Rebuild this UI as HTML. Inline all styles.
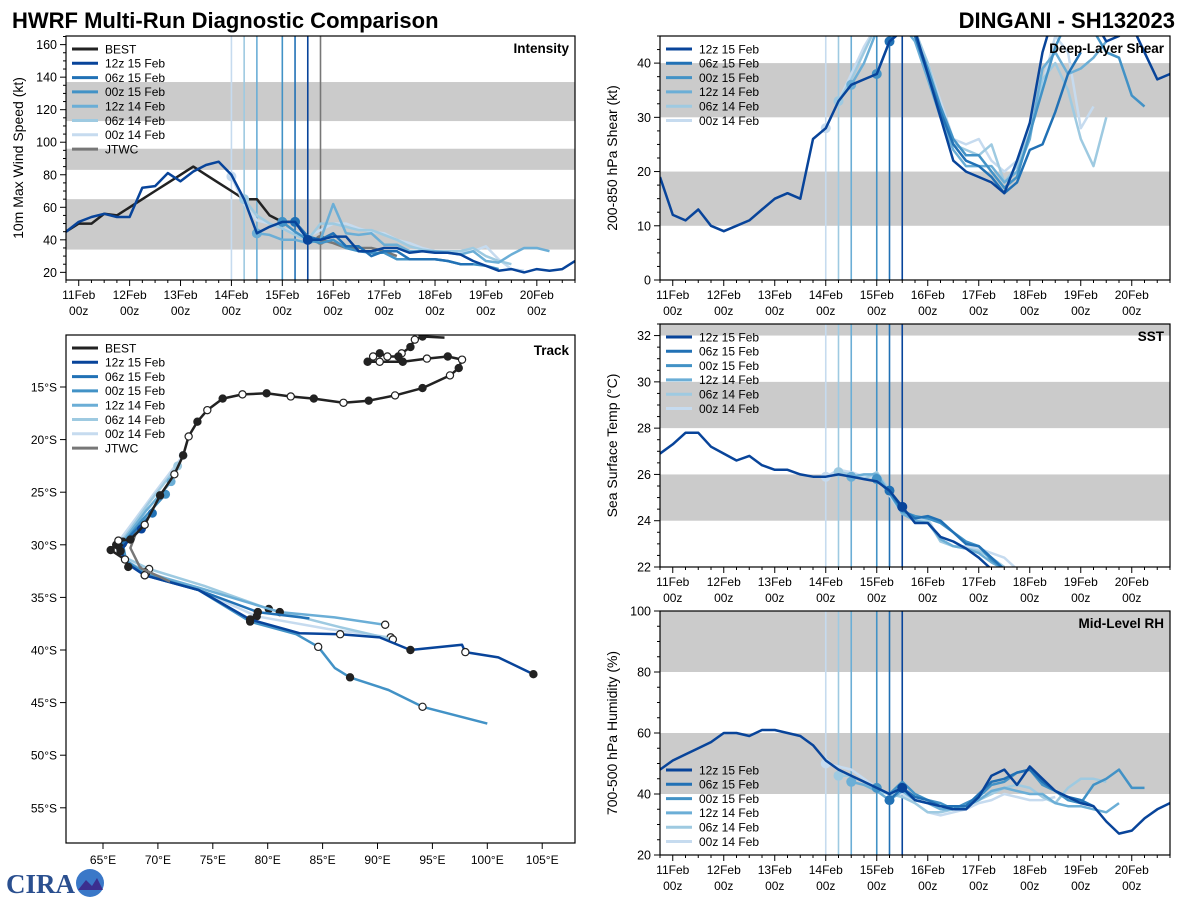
<!DOCTYPE html>
<html><head><meta charset="utf-8">
<style>
html,body{margin:0;padding:0;background:#fff;}
svg{display:block;font-family:"Liberation Sans","DejaVu Sans",sans-serif;}
</style></head>
<body>
<svg id="chart" width="1200" height="900" viewBox="0 0 1200 900">
<text x="12" y="28" font-size="22" font-weight="bold" fill="#000">HWRF Multi-Run Diagnostic Comparison</text>
<text x="1175" y="28" font-size="22" font-weight="bold" fill="#000" text-anchor="end">DINGANI - SH132023</text>
<g>
<text x="6" y="893" font-size="27" font-weight="bold" fill="#2a4f8f" font-family="Liberation Serif, serif">CIRA</text>
<circle cx="90" cy="883" r="14" fill="#3a78c8"/>
<path d="M78 890 L86 880 L92 886 L97 878 L103 890 Z" fill="#3b2f8f"/>
</g>
</svg>
<script>
// ---------- shared data ----------
const runNames = ["12z 15 Feb","06z 15 Feb","00z 15 Feb","12z 14 Feb","06z 14 Feb","00z 14 Feb"];
const runColors = ["#08449a","#2171b5","#4292c6","#6baed6","#9ecae1","#c6dbef"];
const runInit = [4.5,4.25,4.0,3.5,3.25,3.0];
const dayLabels = ["11Feb","12Feb","13Feb","14Feb","15Feb","16Feb","17Feb","18Feb","19Feb","20Feb"];

// Intensity (kt), start time (days from 11Feb 00z) and 6-hourly values
const bestIntStart = -0.25;
const bestInt = [45,50,50,56,55,60,65,70,75,80,85,80,75,70,65,65,55,51,51,40,40];
const jtwcIntStart = 4.75;
const jtwcInt = [40,38,35,35,35,33,30];
const intStart = [-0.25,4.25,4.0,3.5,3.25,3.0];
const int12z15 = [45,51,54,56,54,54,72,73,81,76,82,86,88,80,65,44,48,51,51,40,40,42,42,33,33,35,35,32,33,32,32,31,27,24,21,22,20,22,21,22,27];
const int06z15 = [51,42,40,44,36,36,30,33,33,28,28,28,27,25,25];
const int00z15 = [51,45,40,38,40,35,33,32,32,28,28,28,28,27,25,25,24,22];
const int12z14 = [44,43,40,40,38,40,62,44,43,44,37,37,33,33,33,32,31,33,27,26,31,35,35,33];
const int06z14 = [65,55,50,47,43,40,50,50,48,46,46,43,40,36,34,33,33,33,35,30,27,25];
const int00z14 = [79,62,52,50,47,45,42,46,50,50,47,45,44,40,38,35,33,33,32,33,36,28,22,21];

// Shear (kt)
const shrStart = [-0.25,4.25,4.0,3.5,3.25,3.0];
const shr12z15 = [19,12,11,13,10,9,10,11,13,15,16,15,26,28,33,36,37,38,44,46,46,38,30,22,20,19,18,16,22,29,42,50,52,50,48,44,45,47,42,37,38];
const shr06z15 = [44,46,45,38,31,25,22,21,19,16,18,24,25,31,38,42];
const shr00z15 = [38,44,47,45,39,32,26,23,23,20,17,19,27,35,43,48,48,46,42,41,34,32];
const shr12z14 = [36,40,46,48,47,44,37,30,24,21,21,21,18,20,26,39,42,38,39,41,44];
const shr06z14 = [33,37,42,47,48,48,46,40,32,25,24,23,25,18,21,27,37,40,35,26,21,30];
const shr00z14 = [28,33,38,43,47,48,47,45,40,33,26,25,26,22,20,22,28,36,45,42,28,32];

// SST (C)
const sstStart = [-0.25,4.25,4.0,3.5,3.25,3.0];
const sst12z15 = [26.9,27.3,27.8,27.8,27.2,26.9,26.6,26.8,26.4,26.2,26.2,26.0,25.9,25.9,26.0,25.9,25.8,25.7,25.3,24.6,23.9,23.9,23.3,23.1,22.8,22.4,21.9];
const sst06z15 = [25.3,24.5,24.1,24.2,24.0,23.5,23.0,22.9,22.4,21.9];
const sst00z15 = [25.8,25.2,24.4,24.2,24.1,23.9,23.5,23.1,22.9,22.3,21.9];
const sst12z14 = [25.9,26.0,26.0,25.2,24.3,24.0,23.9,23.2,22.9,22.8,22.6,22.2,21.9];
const sst06z14 = [26.1,26.0,25.8,26.1,25.3,24.4,24.0,24.0,23.1,22.9,22.8,22.7,22.4,22.0];
const sst00z14 = [25.9,26.2,26.1,25.9,25.9,25.1,24.3,24.1,24.1,23.1,22.9,22.9,22.8,22.6,22.4,21.9];

// Mid-level RH (%)
const rhStart = [-0.25,4.25,4.0,3.5,3.25,3.0];
const rh12z15 = [48,51,53,55,57,60,60,59,61,61,60,59,56,51,48,46,44,42,40,42,38,37,36,35,35,39,46,48,43,49,45,41,39,37,36,31,27,28,32,35,37];
const rh06z15 = [38,42,39,38,36,36,36,40,44,45,47,48,44,41,39,38,36];
const rh00z15 = [42,40,44,40,38,37,35,37,39,43,44,47,48,43,41,38,37,43,45,48,42,42];
const rh12z14 = [44,43,41,38,41,38,37,35,35,36,38,41,42,41,40,40,37,36,36,35,34,37];
const rh06z14 = [46,46,44,41,40,39,37,34,34,35,36,38,40,42,43,42,39,37,42,45,45,44];
const rh00z14 = [50,49,48,45,42,40,40,37,34,33,34,35,37,38,40,39,38,38,39];

// Track (lon E, lat S)
const bestLon = [96.1,94.1,93.4,93.0,92.2,91.9,90.9,90.2,89.6,89.1,90.2,92.3,94.5,96.4,97.7,97.4,96.6,94.1,91.6,89.2,86.9,84.2,82.1,79.9,77.7,75.9,74.5,73.6,72.8,72.3,71.5,70.2,68.8,67.5,66.4,65.7,67.0,67.3];
const bestLat = [10.3,10.2,10.5,11.2,11.8,12.1,12.1,11.8,12.1,12.6,12.6,12.6,12.3,12.1,12.4,13.2,13.9,15.1,15.8,16.3,16.5,16.1,15.9,15.6,15.7,16.1,17.2,18.3,19.7,21.5,23.3,25.3,28.1,29.5,29.6,30.5,31.4,32.1];
const jtwcLon = [68.0,67.5,68.4,71.1];
const jtwcLat = [28.9,30.3,32.2,33.5];
const trk12z15Lon = [68.5,67.3,66.6,67.2,68.8,73.7,78.4,82.9,86.6,90.2,93.0,97.7,98.0,101.0,104.2];
const trk12z15Lat = [28.5,29.6,30.6,31.8,32.9,34.3,37.1,38.4,38.5,38.8,40.0,39.5,40.2,40.7,42.3];
const trk06z15Lon = [69.5,67.8,66.5,67.0,68.8,73.7,79.1,83.8];
const trk06z15Lat = [27.0,28.8,30.2,31.6,32.9,34.3,36.4,37.0];
const trk00z15Lon = [70.7,68.6,66.8,67.1,68.9,73.7,78.4,82.6,84.6,86.1,87.5,91.0,94.1,100.0];
const trk00z15Lat = [25.2,27.6,29.9,31.5,32.8,34.3,37.3,38.5,39.7,41.7,42.6,43.8,45.4,47.0];
const trk12z14Lon = [71.2,68.9,66.8,66.9,68.8,73.8,81.1,86.1,90.7];
const trk12z14Lat = [24.0,26.8,29.7,31.4,32.6,34.1,36.4,36.9,37.6];
const trk06z14Lon = [71.8,69.2,66.6,67.0,69.2,74.2,80.1,86.5,91.4];
const trk06z14Lat = [22.5,26.0,29.8,31.2,32.3,33.9,36.1,37.8,39.0];
const trk00z14Lon = [72.3,69.6,66.2,66.4,68.6,73.5,79.0,85.5,91.2];
const trk00z14Lat = [21.5,25.2,30.0,31.0,32.4,34.2,36.8,38.0,38.8];
const lonTicks = [65,70,75,80,85,90,95,100,105];
const latTicks = [15,20,25,30,35,40,45,50,55];

// ---------- drawing ----------
const NS = "http://www.w3.org/2000/svg";
const svg = document.getElementById("chart");
function mk(tag, attrs, parent){
  const e = document.createElementNS(NS, tag);
  for (const k in attrs) e.setAttribute(k, attrs[k]);
  (parent||svg).appendChild(e);
  return e;
}
let clipId = 0;

function timePanel(o){
  const g = mk("g", {});
  
  
  const X = t => o.x0 + (t - (-0.25)) / 10 * (o.x1 - o.x0);
  const Y = v => o.y1 - (v - o.ymin) / (o.ymax - o.ymin) * (o.y1 - o.y0);
  const cid = "clip" + (clipId++);
  const cp = mk("clipPath", {id: cid}, g);
  mk("rect", {x:o.x0, y:o.y0, width:o.x1-o.x0, height:o.y1-o.y0}, cp);
  o.bands.forEach(b => {
    const r = mk("rect", {x:o.x0, y:Y(Math.min(b[1],o.ymax)), width:o.x1-o.x0, height:Y(b[0])-Y(Math.min(b[1],o.ymax)), fill:"#cbcbcb"}, g);
    
    
  });
  runInit.forEach((t,i) => {
    const l = mk("line", {x1:X(t), x2:X(t), y1:o.y0, y2:o.y1, stroke:runColors[i], "stroke-width":1.6}, g);
    
    
  });
  if (o.jtwc){
    const l = mk("line", {x1:X(jtwcIntStart), x2:X(jtwcIntStart), y1:o.y0, y2:o.y1, stroke:"#777", "stroke-width":1.6}, g);
    
    
  }
  const series = [];
  if (o.best) series.push({vals:o.best, start:o.bestStart, color:"#222", name:"best"});
  if (o.jtwc) series.push({vals:o.jtwc, start:jtwcIntStart, color:"#777", name:"jtwc", dot:true});
  for (let i=5;i>=0;i--) series.push({vals:o.runs[i], start:o.starts[i], color:runColors[i], name:runNames[i], dotAt:runInit[i]});
  series.forEach(s => {
    const pts = s.vals.map((v,k) => X(s.start + k*0.25).toFixed(1) + "," + Y(v).toFixed(1)).join(" ");
    const p = mk("polyline", {points:pts, fill:"none", stroke:s.color, "stroke-width":2.5, "stroke-linejoin":"round", "clip-path":"url(#"+cid+")"}, g);
    
    
    let di = -1;
    if (s.dot) di = 0;
    if (s.dotAt !== undefined) di = Math.round((s.dotAt - s.start)/0.25);
    if (di >= 0 && di < s.vals.length){
      const c = mk("circle", {cx:X(s.start+di*0.25), cy:Y(s.vals[di]), r:5, fill:s.color, "clip-path":"url(#"+cid+")"}, g);
      
      
    }
  });
  const fr = mk("rect", {x:o.x0, y:o.y0, width:o.x1-o.x0, height:o.y1-o.y0, fill:"none", stroke:"#000", "stroke-width":1.2}, g);
  
  
  for (let k=-1;k<=39;k++){
    const t = k*0.25;
    if (t < -0.25 || t > 9.75) continue;
    const major = (k % 4 === 0);
    mk("line", {x1:X(t), x2:X(t), y1:o.y1, y2:o.y1 + (major?6:3), stroke:"#000", "stroke-width":1}, g);
  }
  dayLabels.forEach((d,i) => {
    const t1 = mk("text", {x:X(i), y:o.y1+19, "font-size":12, "text-anchor":"middle"}, g);
    t1.textContent = d;
    
    
    const t2 = mk("text", {x:X(i), y:o.y1+35, "font-size":12, "text-anchor":"middle"}, g);
    t2.textContent = "00z";
    
    
  });
  const n0 = Math.ceil(o.ymin / o.minor - 1e-6), n1 = Math.floor(o.ymax / o.minor + 1e-6);
  for (let n=n0; n<=n1; n++){
    const vv = Math.round(n*o.minor*100)/100;
    const q = (vv - o.ymajor0) / o.major;
    const isMajor = Math.abs(q - Math.round(q)) < 1e-6;
    mk("line", {x1:o.x0, x2:o.x0-(isMajor?6:3), y1:Y(vv), y2:Y(vv), stroke:"#000", "stroke-width":1}, g);
    if (isMajor){
      const t = mk("text", {x:o.x0-9, y:Y(vv)+4.5, "font-size":12.5, "text-anchor":"end"}, g);
      t.textContent = String(vv);
      
      
    }
  }
  const yt = mk("text", {x:0, y:0, "font-size":14, "text-anchor":"middle", transform:"translate("+(o.x0-43)+","+((o.y0+o.y1)/2)+") rotate(-90)"}, g);
  yt.textContent = o.ylabel;
  
  
  const pt = mk("text", {x:o.x1-6, y:o.y0+17, "font-size":13.5, "font-weight":"bold", "text-anchor":"end"}, g);
  pt.textContent = o.title;
  
  
  legend(g, o.x0+6, o.legendY, o.best ? true : false, o.jtwc ? true : false);
}

function legend(g, x, y, withBest, withJtwc){
  const items = [];
  if (withBest) items.push(["BEST","#222"]);
  runNames.forEach((n,i) => items.push([n, runColors[i]]));
  if (withJtwc) items.push(["JTWC","#777"]);
  const lg = mk("g", {}, g);
  
  
  items.forEach((it,i) => {
    const yy = y + i*14.3;
    mk("line", {x1:x, x2:x+26, y1:yy, y2:yy, stroke:it[1], "stroke-width":3}, lg);
    const t = mk("text", {x:x+33, y:yy+4.3, "font-size":12}, lg);
    t.textContent = it[0];
    
    
  });
}

timePanel({name:"intensity", x0:66, x1:575, y0:36, y1:280, ymin:15.3, ymax:165.3, major:20, ymajor0:20, minor:5,
  bands:[[34,65],[83,96],[113,137]], ylabel:"10m Max Wind Speed (kt)", title:"Intensity",
  best:bestInt, bestStart:bestIntStart, jtwc:jtwcInt,
  runs:[int12z15,int06z15,int00z15,int12z14,int06z14,int00z14], starts:intStart, legendY:49});
timePanel({name:"shear", x0:660, x1:1170, y0:36, y1:280, ymin:0, ymax:45, major:10, ymajor0:0, minor:2.5,
  bands:[[10,20],[30,40]], ylabel:"200-850 hPa Shear (kt)", title:"Deep-Layer Shear",
  runs:[shr12z15,shr06z15,shr00z15,shr12z14,shr06z14,shr00z14], starts:shrStart, legendY:49});
timePanel({name:"sst", x0:660, x1:1170, y0:324, y1:567, ymin:22, ymax:32.5, major:2, ymajor0:22, minor:0.5,
  bands:[[24,26],[28,30],[32,32.5]], ylabel:"Sea Surface Temp (°C)", title:"SST",
  runs:[sst12z15,sst06z15,sst00z15,sst12z14,sst06z14,sst00z14], starts:sstStart, legendY:337});
timePanel({name:"rh", x0:660, x1:1170, y0:611, y1:855, ymin:20, ymax:100, major:20, ymajor0:20, minor:5,
  bands:[[40,60],[80,100]], ylabel:"700-500 hPa Humidity (%)", title:"Mid-Level RH",
  runs:[rh12z15,rh06z15,rh00z15,rh12z14,rh06z14,rh00z14], starts:rhStart, legendY:770});

// ---------- track panel ----------
(function(){
  const x0=66,x1=575,y0=335,y1=843;
  const LX = lon => 103 + (lon-65)*10.98;
  const LY = lat => 387 + (lat-15)*10.52;
  const g = mk("g", {});
  
  
  const cp = mk("clipPath", {id:"trkclip"}, g);
  mk("rect", {x:x0,y:y0,width:x1-x0,height:y1-y0}, cp);
  function track(lons, lats, color, name, w, markerEvery){
    const pts = lons.map((l,k) => LX(l).toFixed(1)+","+LY(lats[k]).toFixed(1)).join(" ");
    const p = mk("polyline", {points:pts, fill:"none", stroke:color, "stroke-width":w, "stroke-linejoin":"round", "clip-path":"url(#trkclip)"}, g);
    
    
    if (markerEvery){
      let n = 0;
      for (let k=markerEvery; k<lons.length; k+=markerEvery){
        const c = mk("circle", {cx:LX(lons[k]), cy:LY(lats[k]), r:3.6, fill:(n%2? "#fff":"#222"), stroke:"#222", "stroke-width":1.2, "clip-path":"url(#trkclip)"}, g);
        
        
        n++;
      }
    }
  }
  const fl = [[trk12z15Lon,trk12z15Lat],[trk06z15Lon,trk06z15Lat],[trk00z15Lon,trk00z15Lat],[trk12z14Lon,trk12z14Lat],[trk06z14Lon,trk06z14Lat],[trk00z14Lon,trk00z14Lat]];
  for (let i=5;i>=0;i--){
    track(fl[i][0], fl[i][1], runColors[i], runNames[i].replace(/ /g,'-').toLowerCase(), 2.5, 2);
    const c = mk("circle", {cx:LX(fl[i][0][0]), cy:LY(fl[i][1][0]), r:4.5, fill:runColors[i]}, g);
    
    
  }
  track(jtwcLon, jtwcLat, "#777", "jtwc", 2.5, 0);
  track(bestLon, bestLat, "#222", "best", 2.5, 1);
  const fr = mk("rect", {x:x0,y:y0,width:x1-x0,height:y1-y0,fill:"none",stroke:"#000","stroke-width":1.2}, g);
  
  
  lonTicks.forEach(l => {
    mk("line", {x1:LX(l),x2:LX(l),y1:y1,y2:y1+6,stroke:"#000"}, g);
    const t = mk("text", {x:LX(l), y:y1+21, "font-size":12, "text-anchor":"middle"}, g);
    t.textContent = l + "°E";
    
    
  });
  latTicks.forEach(l => {
    mk("line", {x1:x0,x2:x0-6,y1:LY(l),y2:LY(l),stroke:"#000"}, g);
    const t = mk("text", {x:x0-9, y:LY(l)+4.5, "font-size":12, "text-anchor":"end"}, g);
    t.textContent = l + "°S";
    
    
  });
  const pt = mk("text", {x:x1-6, y:y0+20, "font-size":13.5, "font-weight":"bold", "text-anchor":"end"}, g);
  pt.textContent = "Track";
  
  
  legend(g, x0+6, y0+13, true, true);
})();
</script>
</body></html>
